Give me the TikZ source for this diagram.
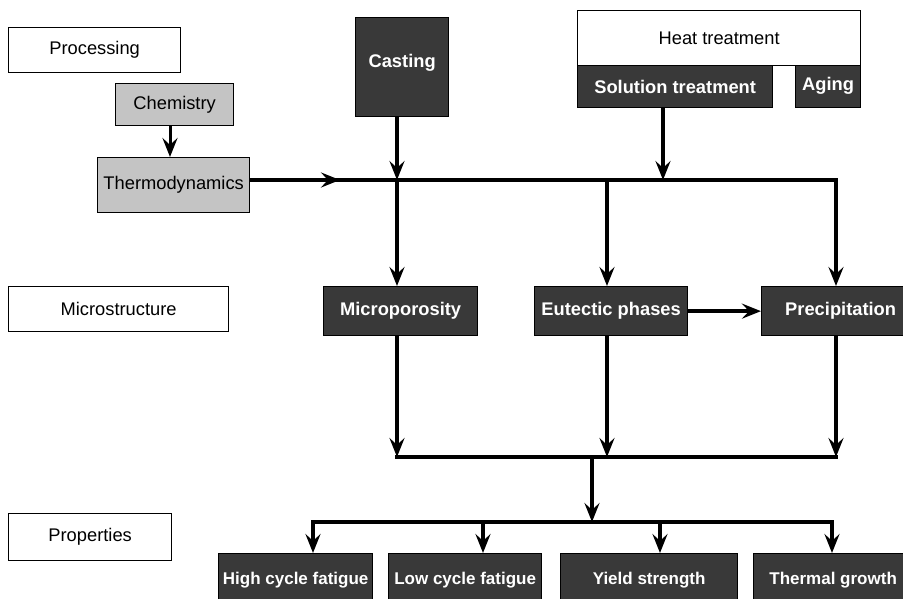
\documentclass[tikz,border=0pt]{standalone}
\usepackage{fontspec}
\setmainfont{Liberation Sans}
\usetikzlibrary{arrows.meta}
\definecolor{boxdark}{HTML}{393939}
\definecolor{boxgray}{HTML}{C4C4C4}
\begin{document}
\begin{tikzpicture}[x=1pt,y=-1pt,
  box/.style={draw=black, line width=1.3pt, inner sep=0pt, anchor=north west},
  levelbox/.style={box, fill=white, text=black, font=\fontsize{18.3}{21}\selectfont},
  graybox/.style={box, fill=boxgray, text=black, font=\fontsize{18.3}{21}\selectfont},
  darkbox/.style={box, fill=boxdark, text=white, font=\bfseries\fontsize{18.3}{21}\selectfont},
  propbox/.style={darkbox, font=\bfseries\fontsize{17}{21}\selectfont},
  flow/.style={line width=3.5pt, draw=black},
  bus/.style={flow, line cap=rect},
  tip/.style={-{Stealth[length=19pt,width=15pt,inset=7pt]}}
]
\path[use as bounding box] (0,0) rectangle (903,598);
\clip (0,0) rectangle (903,598);
\fill[white] (0,0) rectangle (903,598);

% level labels
\node[levelbox, minimum width=172pt, minimum height=45pt] (proc) at (8,27) {Processing\hspace{10pt}};
\node[levelbox, minimum width=220pt, minimum height=45pt] (mstr) at (8,286) {Microstructure};
\node[levelbox, minimum width=163pt, minimum height=47pt] (prop) at (8,513) {Properties};

% processing
\node[graybox, minimum width=118pt, minimum height=42pt] (chem) at (115,83) {Chemistry};
\node[graybox, minimum width=152pt, minimum height=55pt] (thermo) at (97,157) {Thermodynamics};
\node[darkbox, minimum width=93pt, minimum height=99pt, text depth=12pt] (cast) at (355,17) {Casting};
\node[levelbox, minimum width=283pt, minimum height=55pt] (heat) at (577,10) {Heat treatment};
\node[darkbox, minimum width=195pt, minimum height=42pt] (soln) at (577,65) {Solution treatment};
\node[darkbox, minimum width=65pt, minimum height=42pt, text depth=5pt] (aging) at (795,65) {Aging};

% microstructure
\node[darkbox, minimum width=154pt, minimum height=49pt] (mpor) at (323,286) {Microporosity};
\node[darkbox, minimum width=153pt, minimum height=49pt] (eut) at (534,286) {Eutectic phases};
\node[darkbox, minimum width=158pt, minimum height=49pt] (prec) at (761,286) {Precipitation};

% properties
\node[propbox, minimum width=154pt, minimum height=52pt] (hcf) at (218,553) {High cycle fatigue};
\node[propbox, minimum width=153pt, minimum height=52pt] (lcf) at (388,553) {Low cycle fatigue};
\node[propbox, minimum width=177pt, minimum height=52pt] (ys) at (560,553) {Yield strength};
\node[propbox, minimum width=159pt, minimum height=52pt] (tg) at (753,553) {Thermal growth};

% bus junction points
\coordinate (tM) at (340,180);
\coordinate (tA) at (397,180);
\coordinate (tE) at (607,180);
\coordinate (tS) at (663,180);
\coordinate (tP) at (836,180);
\coordinate (mA) at (397,457);
\coordinate (mC) at (592,457);
\coordinate (mE) at (607,457);
\coordinate (mP) at (836,457);
\coordinate (b1) at (313,522);
\coordinate (b2) at (483,522);
\coordinate (bC) at (592,522);
\coordinate (b3) at (660,522);
\coordinate (b4) at (832,522);

% processing connectors
\draw[flow, line width=3pt, tip] (chem.south -| 170,0) -- (thermo.north -| 170,0);
\draw[bus] (thermo.east |- tA) -- (tP);
\draw[flow, tip] (thermo.east |- tA) -- (tM);
\draw[flow, tip] (cast.south -| tA) -- (tA);
\draw[flow, tip] (soln.south -| tS) -- (tS);
\draw[flow, tip] (tA) -- (mpor.north -| tA);
\draw[flow, tip] (tE) -- (eut.north -| tE);
\draw[flow, tip] (tP) -- (prec.north -| tP);
\draw[flow, tip] (eut.east) -- (prec.west);

% microstructure to properties
\draw[flow, tip] (mpor.south -| mA) -- (mA);
\draw[flow, tip] (eut.south -| mE) -- (mE);
\draw[flow, tip] (prec.south -| mP) -- (mP);
\draw[bus] (mA) -- (mP);
\draw[flow, tip] (mC) -- (bC);
\draw[bus] (b1) -- (b4);
\draw[flow, tip] (b1) -- (hcf.north -| b1);
\draw[flow, tip] (b2) -- (lcf.north -| b2);
\draw[flow, tip] (b3) -- (ys.north -| b3);
\draw[flow, tip] (b4) -- (tg.north -| b4);
\end{tikzpicture}
\end{document}
